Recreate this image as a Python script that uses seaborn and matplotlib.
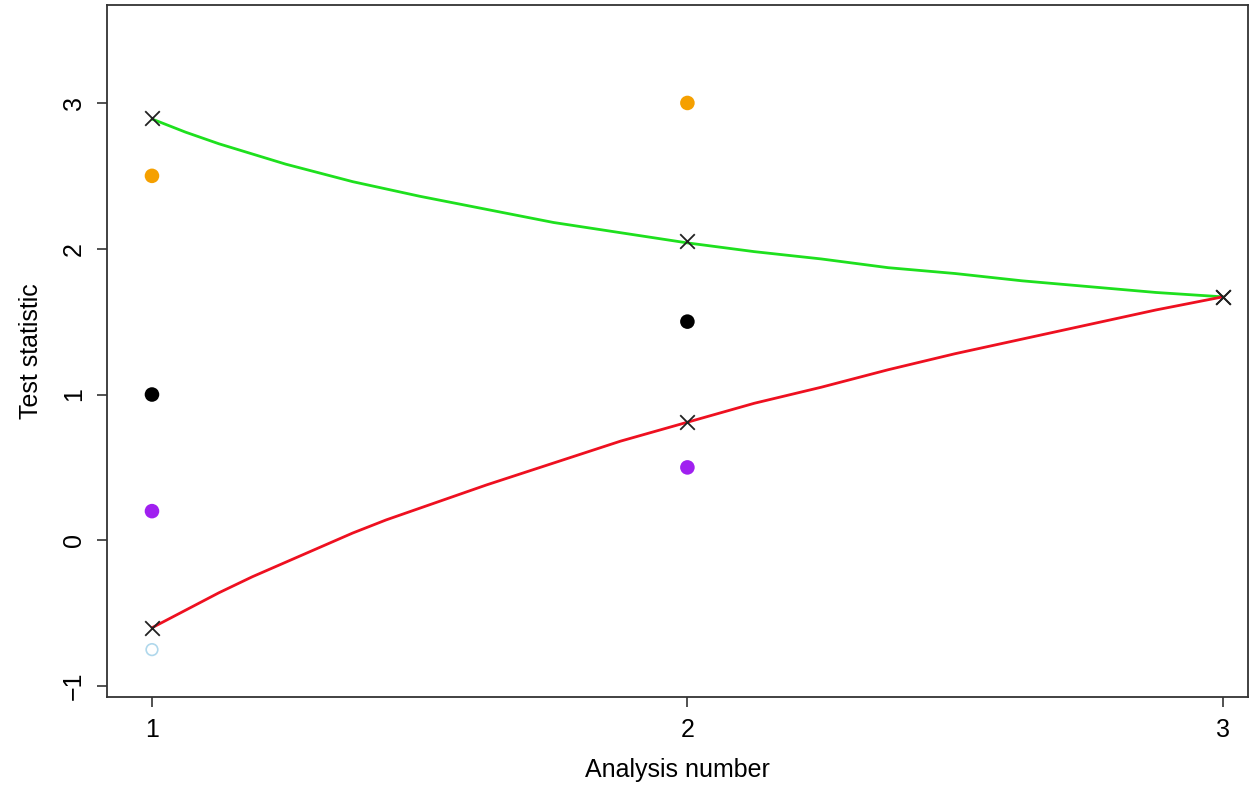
import numpy as np
import pandas as pd
import matplotlib
matplotlib.use('Agg')
import matplotlib.pyplot as plt
import seaborn as sns

# Boundary curves
curve_x = [1.0, 1.0625, 1.125, 1.1875, 1.25, 1.3125, 1.375, 1.4375, 1.5,
           1.625, 1.75, 1.875, 2.0, 2.125, 2.25, 2.375, 2.5, 2.625, 2.75,
           2.875, 3.0]
upper_curve = [2.89, 2.80, 2.72, 2.65, 2.58, 2.52, 2.46, 2.41, 2.36,
               2.27, 2.18, 2.11, 2.04, 1.98, 1.93, 1.87, 1.83, 1.78, 1.74,
               1.70, 1.67]
lower_curve = [-0.60, -0.48, -0.36, -0.25, -0.15, -0.05, 0.05, 0.14, 0.22,
               0.38, 0.53, 0.68, 0.81, 0.94, 1.05, 1.17, 1.28, 1.38, 1.48,
               1.58, 1.67]

# Boundary values at each analysis (crosses)
analysis = [1, 2, 3]
upper_bound = [2.90, 2.05, 1.67]
lower_bound = [-0.60, 0.81, 1.67]

# Observed test statistics (filled dots)
obs_analysis = [1, 2]
obs_orange = [2.5, 3.0]
obs_black = [1.0, 1.5]
obs_purple = [0.2, 0.5]

# Open circle
open_analysis = [1]
open_value = [-0.75]

COLORS = {'orange': '#F5A000', 'black': '#000000', 'purple': '#A020F0'}

sns.set_style('white')
plt.rcParams['font.family'] = ['Liberation Sans', 'DejaVu Sans']
plt.rcParams['text.color'] = 'black'
plt.rcParams['axes.labelcolor'] = 'black'
plt.rcParams['xtick.color'] = 'black'
plt.rcParams['ytick.color'] = 'black'

fig = plt.figure(figsize=(12.53, 7.94), dpi=100)
ax = fig.add_axes([107 / 1253, 1 - 697 / 794, (1248 - 107) / 1253, (697 - 5) / 794])

curves = pd.DataFrame({'x': curve_x, 'upper': upper_curve, 'lower': lower_curve})
sns.lineplot(data=curves, x='x', y='upper', color='#1EE01E', lw=2.0, ax=ax)
sns.lineplot(data=curves, x='x', y='lower', color='#EE1020', lw=2.0, ax=ax)

obs = pd.DataFrame({
    'analysis': obs_analysis * 3,
    'value': obs_orange + obs_black + obs_purple,
    'series': ['orange'] * 2 + ['black'] * 2 + ['purple'] * 2,
})
sns.scatterplot(data=obs, x='analysis', y='value', hue='series', palette=COLORS,
                s=110, edgecolor='none', legend=False, ax=ax, zorder=3)

sns.scatterplot(x=open_analysis, y=open_value, marker='o', s=70,
                facecolor='none', edgecolor='#B0D8EC', linewidth=1.2, ax=ax, zorder=3)

bounds = pd.DataFrame({'analysis': analysis * 2, 'value': upper_bound + lower_bound})
sns.scatterplot(data=bounds, x='analysis', y='value', marker='x', s=110,
                color='#222222', linewidth=1.3, ax=ax, zorder=4)

ax.set_xlim(0.916, 3.047)
ax.set_ylim(-1.075, 3.672)
ax.set_xticks([1, 2, 3])
ax.set_yticks([-1, 0, 1, 2, 3])
ax.set_yticklabels(['\u22121' if v < 0 else str(v) for v in [-1, 0, 1, 2, 3]],
                   rotation=90, va='center')
ax.tick_params(axis='both', direction='out', length=7, width=1.2, color='#333333',
               labelsize=18, pad=8, bottom=True, left=True)
ax.set_xlabel('Analysis number', fontsize=18, labelpad=12)
ax.set_ylabel('Test statistic', fontsize=18, labelpad=14)
for sp in ax.spines.values():
    sp.set_visible(True)
    sp.set_color('#333333')
    sp.set_linewidth(1.3)

fig.savefig('out.png', dpi=100)
plt.close(fig)
